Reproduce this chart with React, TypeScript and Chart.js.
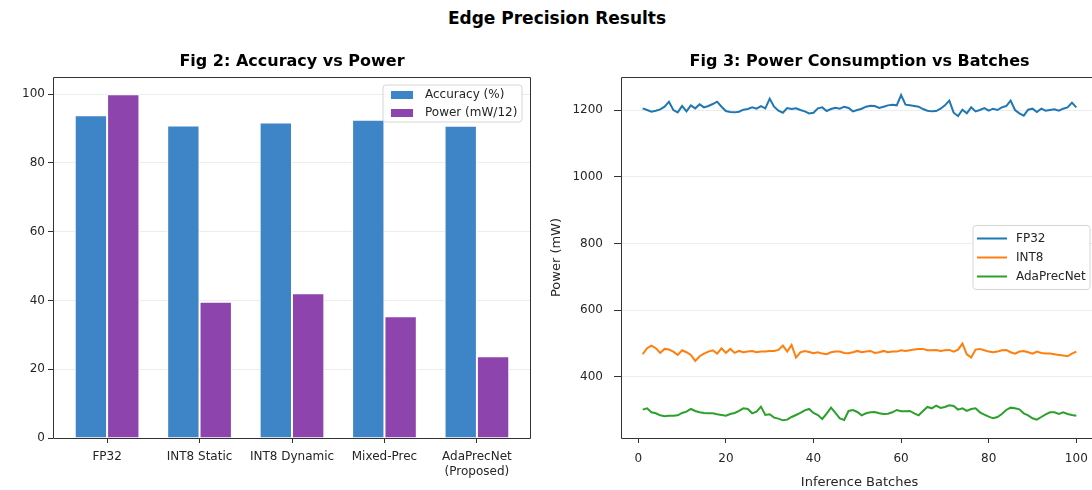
import React, { useEffect, useRef } from 'react';
import { Chart, registerables } from 'chart.js';
Chart.register(...registerables);

const mainTitle = 'Edge Precision Results';
const barTitle = 'Fig 2: Accuracy vs Power';
const lineTitle = 'Fig 3: Power Consumption vs Batches';

const categories: (string | string[])[] = ['FP32', 'INT8 Static', 'INT8 Dynamic', 'Mixed-Prec', ['AdaPrecNet', '(Proposed)']];
const accuracy = [93.9, 90.9, 91.8, 92.6, 90.8];
const powerScaled = [100, 39.6, 42.1, 35.4, 23.8];
const barSeriesNames = ['Accuracy (%)', 'Power (mW/12)'];
const barColors = ['#3d85c6', '#8e44ad'];
const barYTicks = [0, 20, 40, 60, 80, 100];

const fp32 = [1205,1200,1195,1198,1202,1210,1225,1200,1193,1212,1196,1214,1205,1217,1208,1212,1218,1225,1210,1197,1194,1193,1195,1201,1203,1208,1204,1212,1205,1234,1210,1198,1192,1206,1203,1205,1200,1196,1190,1192,1205,1208,1197,1203,1207,1204,1210,1206,1196,1200,
  1204,1210,1213,1212,1206,1210,1214,1216,1214,1245,1216,1214,1212,1210,1203,1198,1196,1197,1204,1214,1228,1192,1182,1201,1190,1208,1196,1200,1206,1198,1204,1200,1208,1212,1228,1200,1190,1183,1201,1204,1194,1204,1198,1200,1202,1198,1204,1208,1222,1208];
const int8 = [468,486,494,486,472,484,482,476,466,480,474,466,448,462,470,476,480,470,486,472,484,472,478,474,476,478,474,476,476,478,478,481,494,476,496,458,474,478,475,471,474,470,468,474,476,476,472,471,474,478,
  474,476,478,472,474,478,474,476,476,480,478,480,482,484,484,480,480,481,478,480,481,476,482,500,468,458,482,484,480,476,474,476,480,481,474,470,476,478,474,470,476,472,470,470,468,466,464,462,470,476];
const adaPrecNet = [302,306,294,291,285,282,284,284,285,292,296,304,298,294,292,291,291,288,286,284,289,292,298,306,304,291,296,311,286,288,278,275,270,272,280,286,292,300,304,292,286,274,290,308,292,276,271,298,301,295,
  285,291,294,295,291,289,290,294,301,297,297,298,291,285,298,310,306,314,307,310,315,313,302,306,298,304,306,294,287,281,276,280,289,301,308,306,303,291,285,276,272,280,288,294,294,289,294,289,286,284];
const lineSeriesNames = ['FP32', 'INT8', 'AdaPrecNet'];
const lineColors = ['#1f77b4', '#ff7f0e', '#2ca02c'];
const lineXTicks = [0, 20, 40, 60, 80, 100];
const lineYTicks = [400, 600, 800, 1000, 1200];

const FONT = '"DejaVu Sans", sans-serif';
const TXT = '#262626';

Chart.defaults.font.family = FONT;
Chart.defaults.color = TXT;

const framePlugin = {
  id: 'frame',
  afterDraw(chart: any, _a: any, opts: any) {
    const { ctx, chartArea: a } = chart;
    ctx.save();
    ctx.strokeStyle = '#333';
    ctx.lineWidth = 1;
    ctx.beginPath();
    ctx.moveTo(a.left + 0.5, a.bottom + 0.5);
    ctx.lineTo(a.left + 0.5, a.top + 0.5);
    ctx.lineTo(a.right - 0.5, a.top + 0.5);
    ctx.lineTo(a.right - 0.5, a.bottom + 0.5);
    ctx.closePath();
    ctx.stroke();
    if (opts && opts.title) {
      ctx.fillStyle = '#000';
      ctx.font = 'bold 16px ' + FONT;
      ctx.textAlign = 'center';
      ctx.textBaseline = 'middle';
      ctx.fillText(opts.title, (a.left + a.right) / 2, 62);
    }
    ctx.restore();
  },
};

function roundBox(ctx: CanvasRenderingContext2D, x: number, y: number, w: number, h: number, r: number) {
  ctx.beginPath();
  ctx.moveTo(x + r, y);
  ctx.lineTo(x + w - r, y);
  ctx.quadraticCurveTo(x + w, y, x + w, y + r);
  ctx.lineTo(x + w, y + h - r);
  ctx.quadraticCurveTo(x + w, y + h, x + w - r, y + h);
  ctx.lineTo(x + r, y + h);
  ctx.quadraticCurveTo(x, y + h, x, y + h - r);
  ctx.lineTo(x, y + r);
  ctx.quadraticCurveTo(x, y, x + r, y);
  ctx.closePath();
}

const boxLegendPlugin = {
  id: 'boxLegend',
  afterDraw(chart: any, _a: any, opts: any) {
    if (!opts || !opts.kind) return;
    const { ctx, chartArea: a } = chart;
    const ds = chart.data.datasets;
    ctx.save();
    let x: number, y: number, w: number, h: number, step: number, first: number;
    if (opts.kind === 'bar') {
      w = 139; h = 37; x = a.right - 9 - w; y = a.top + 8; step = 18; first = 10;
    } else {
      w = 117; h = 64; x = a.right - 8 - w; y = (a.top + a.bottom) / 2 - h / 2; step = 19; first = 13;
    }
    roundBox(ctx, x, y, w, h, 3);
    ctx.fillStyle = 'rgba(255,255,255,0.85)';
    ctx.fill();
    ctx.strokeStyle = '#d6d6d6';
    ctx.lineWidth = 1;
    ctx.stroke();
    ctx.font = '12px ' + FONT;
    ctx.textBaseline = 'middle';
    ctx.textAlign = 'left';
    ds.forEach((d: any, i: number) => {
      const ry = y + first + i * step;
      if (opts.kind === 'bar') {
        ctx.fillStyle = d.backgroundColor;
        ctx.fillRect(x + 8, ry - 4, 22, 8);
        ctx.fillStyle = TXT;
        ctx.fillText(d.label, x + 42, ry);
      } else {
        ctx.strokeStyle = d.borderColor;
        ctx.lineWidth = 2;
        ctx.beginPath();
        ctx.moveTo(x + 4, ry);
        ctx.lineTo(x + 34, ry);
        ctx.stroke();
        ctx.fillStyle = TXT;
        ctx.fillText(d.label, x + 43, ry);
      }
    });
    ctx.restore();
  },
};

export default function App() {
  const barRef = useRef<HTMLCanvasElement>(null);
  const lineRef = useRef<HTMLCanvasElement>(null);

  useEffect(() => {
    const tickFont = { size: 12, family: FONT };
    const bar = new Chart(barRef.current!, {
      type: 'bar',
      data: {
        datasets: [
          { label: barSeriesNames[0], data: accuracy.map((v, i) => ({ x: i, y: v })), backgroundColor: barColors[0], borderColor: '#ffffff', borderWidth: 1 },
          { label: barSeriesNames[1], data: powerScaled.map((v, i) => ({ x: i, y: v })), backgroundColor: barColors[1], borderColor: '#ffffff', borderWidth: 1 },
        ],
      },
      options: {
        responsive: false,
        animation: false,
        events: [],
        layout: { padding: { top: 77, right: 15, left: 0, bottom: 0 } },
        datasets: { bar: { categoryPercentage: 0.7, barPercentage: 1.0 } },
        plugins: {
          legend: { display: false },
          tooltip: { enabled: false },
          title: { display: false },
          frame: { title: barTitle },
          boxLegend: { kind: 'bar' },
        } as any,
        scales: {
          x: {
            type: 'linear',
            offset: false,
            min: -0.585,
            max: 4.585,
            afterFit: (s: any) => { s.height = 52; },
            afterBuildTicks: (s: any) => { s.ticks = categories.map((_, i) => ({ value: i })); },
            ticks: {
              font: tickFont,
              color: TXT,
              padding: 7,
              maxRotation: 0,
              autoSkip: false,
              callback: (v: any) => categories[Math.round(Number(v))] as any,
            },
            grid: { offset: false, drawOnChartArea: false, tickColor: '#333', tickLength: 5 },
            border: { display: false },
          },
          y: {
            min: 0,
            max: 105,
            afterFit: (s: any) => { s.width = 53; },
            afterBuildTicks: (s: any) => { s.ticks = barYTicks.map((v) => ({ value: v })); },
            ticks: { font: tickFont, color: TXT, padding: 3, callback: (v: any) => String(v) },
            grid: { color: 'rgba(0,0,0,0.07)', tickColor: '#333', tickLength: 5 },
            border: { display: false },
          },
        },
      },
      plugins: [framePlugin, boxLegendPlugin],
    } as any);

    const series = [fp32, int8, adaPrecNet];
    const line = new Chart(lineRef.current!, {
      type: 'line',
      data: {
        datasets: series.map((s, k) => ({
          label: lineSeriesNames[k],
          data: s.map((v, i) => ({ x: i + 1, y: v })),
          borderColor: lineColors[k],
          backgroundColor: lineColors[k],
          borderWidth: 2,
          pointRadius: 0,
          tension: 0,
          fill: false,
        })),
      },
      options: {
        responsive: false,
        animation: false,
        events: [],
        layout: { padding: { top: 77, right: 8, left: 0, bottom: 0 } },
        plugins: {
          legend: { display: false },
          tooltip: { enabled: false },
          title: { display: false },
          frame: { title: lineTitle },
          boxLegend: { kind: 'line' },
        } as any,
        scales: {
          x: {
            type: 'linear',
            min: -3.95,
            max: 104.95,
            afterFit: (s: any) => { s.height = 52; },
            afterBuildTicks: (s: any) => { s.ticks = lineXTicks.map((v) => ({ value: v })); },
            ticks: { font: tickFont, color: TXT, padding: 9, maxRotation: 0, callback: (v: any) => String(v) },
            grid: { drawOnChartArea: false, tickColor: '#333', tickLength: 5 },
            border: { display: false },
            title: { display: true, text: 'Inference Batches', font: { size: 13, family: FONT }, color: TXT, padding: { top: 0, bottom: 0 } },
          },
          y: {
            min: 217,
            max: 1299,
            afterFit: (s: any) => { s.width = 75; },
            afterBuildTicks: (s: any) => { s.ticks = lineYTicks.map((v) => ({ value: v })); },
            ticks: { font: tickFont, color: TXT, padding: 11, callback: (v: any) => String(v) },
            grid: { color: 'rgba(0,0,0,0.07)', tickColor: '#333', tickLength: 7 },
            border: { display: false },
            title: { display: true, text: 'Power (mW)', font: { size: 13, family: FONT }, color: TXT, padding: { top: 3, bottom: 2 } },
          },
        },
      },
      plugins: [framePlugin, boxLegendPlugin],
    } as any);

    return () => { bar.destroy(); line.destroy(); };
  }, []);

  return (
    <div style={{ position: 'fixed', left: 0, top: 0, width: 1092, height: 490, overflow: 'hidden', background: '#fff' }}>
      <div style={{ position: 'absolute', left: 557, top: 7, transform: 'translateX(-50%)', whiteSpace: 'nowrap', fontFamily: FONT, fontWeight: 'bold', fontSize: 17, lineHeight: '22px', color: '#000' }}>
        {mainTitle}
      </div>
      <canvas ref={barRef} width={546} height={490} style={{ position: 'absolute', left: 0, top: 0 }} />
      <canvas ref={lineRef} width={560} height={490} style={{ position: 'absolute', left: 546, top: 0 }} />
    </div>
  );
}
